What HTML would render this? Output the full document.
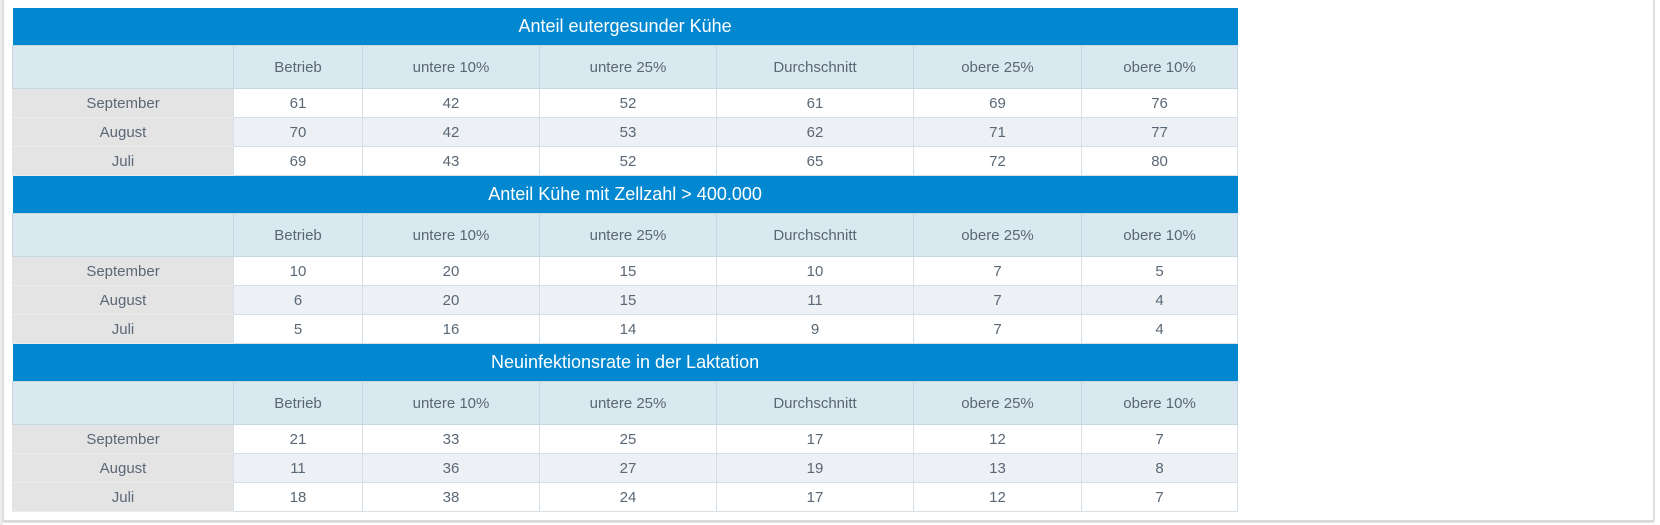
<!DOCTYPE html>
<html><head><meta charset="utf-8"><style>
html,body{margin:0;padding:0;background:#fff;width:1660px;height:525px;overflow:hidden}
body{font-family:"Liberation Sans Narrow","Liberation Sans",sans-serif;}
.card{position:absolute;left:3px;top:-2px;width:1649px;height:521px;background:#fff;border:1px solid #ddd;box-shadow:0 1px 2px #bbb}
.bg{position:absolute;left:0;top:0;width:3px;height:525px;background:#eee}
table{position:absolute;left:12px;top:8px;border-collapse:collapse;table-layout:fixed;width:1225px;color:#5a6775;font-size:15px}
td{text-align:center;padding:0;border:1px solid #d6e0e6}
tr.title td{background:#0288d1;color:#fff;height:37px;font-size:18px;border:none}
tr.head td{background:#dae8ef;height:42px;border-color:#c8d7e0}
tr.r td{height:28px}
tr.r td.lab{background:#e4e4e4;border-color:#e4e4e4 #d6e0e6 #ececec #e4e4e4}
tr.alt td{background:#edf1f5}
tr.alt td.lab{background:#e4e4e4}
</style></head><body>
<div class="bg"></div>
<div class="card"></div>
<table>
<colgroup><col style="width:221px"><col style="width:129px"><col style="width:177px"><col style="width:177px"><col style="width:197px"><col style="width:168px"><col style="width:156px"></colgroup>
<tbody id="tb"></tbody>
</table>
<script>
const sections=["Anteil eutergesunder Kühe","Anteil Kühe mit Zellzahl > 400.000","Neuinfektionsrate in der Laktation"];
const columns=["Betrieb","untere 10%","untere 25%","Durchschnitt","obere 25%","obere 10%"];
const months=["September","August","Juli"];
const values1=[[61,42,52,61,69,76],[70,42,53,62,71,77],[69,43,52,65,72,80]];
const values2=[[10,20,15,10,7,5],[6,20,15,11,7,4],[5,16,14,9,7,4]];
const values3=[[21,33,25,17,12,7],[11,36,27,19,13,8],[18,38,24,17,12,7]];
const allValues=[values1,values2,values3];
const tb=document.getElementById('tb');
sections.forEach((s,si)=>{
  const tr=document.createElement('tr');tr.className='title';
  
  
  const td=document.createElement('td');td.colSpan=7;td.textContent=s;
  
  
  tr.appendChild(td);tb.appendChild(tr);
  const h=document.createElement('tr');h.className='head';
  
  
  ['',...columns].forEach(c=>{const d=document.createElement('td');d.textContent=c;
    
    
    h.appendChild(d);});
  tb.appendChild(h);
  months.forEach((m,mi)=>{
    const r=document.createElement('tr');r.className='r'+(mi==1?' alt':'');
    
    
    const l=document.createElement('td');l.className='lab';l.textContent=m;
    
    
    r.appendChild(l);
    allValues[si][mi].forEach(v=>{const d=document.createElement('td');d.textContent=v;
      
      
      r.appendChild(d);});
    tb.appendChild(r);
  });
});
</script>
</body></html>
